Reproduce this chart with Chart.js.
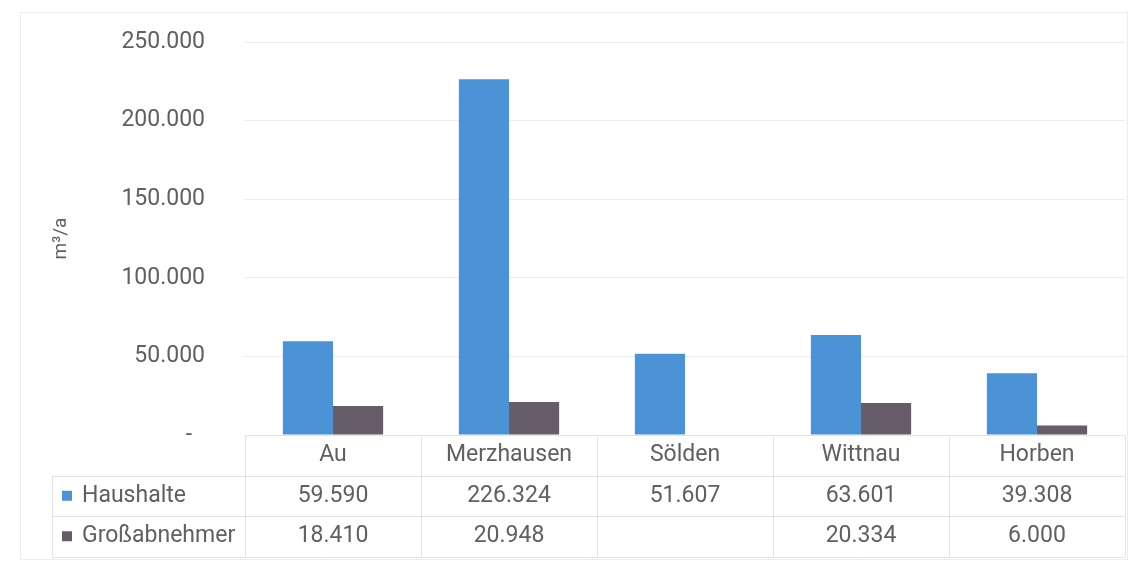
<!DOCTYPE html>
<html>
<head>
<meta charset="utf-8">
<script src="https://cdn.jsdelivr.net/npm/chart.js@4/dist/chart.umd.min.js"></script>
<style>
  html, body { margin: 0; padding: 0; background: #ffffff; }
  #wrap { position: relative; width: 1140px; height: 563px; }
  #frame { position: absolute; left: 20px; top: 12px; width: 1108px; height: 548px; border: 1px solid #ececec; box-sizing: border-box; pointer-events: none; }
  canvas { position: absolute; left: 0; top: 0; }
</style>
</head>
<body>
<div id="wrap">
  <canvas id="c" width="1140" height="563"></canvas>
  <div id="frame"></div>
</div>
<script>
const categories = ['Au', 'Merzhausen', 'Sölden', 'Wittnau', 'Horben'];
const haushalte = [59590, 226324, 51607, 63601, 39308];
const grossabnehmer = [18410, 20948, null, 20334, 6000];
const seriesNames = ['Haushalte', 'Großabnehmer'];
const yTicks = [0, 50000, 100000, 150000, 200000, 250000];
const yTitle = 'm³/a';

const FONT = 'Roboto, "Liberation Sans", sans-serif';
const FS = 23;
const TEXT = '#606060';
const LINE = '#dde4ec';
const colors = ['#4b93d6', '#675d68'];

function fmt(v) {
  if (v === null || v === undefined) return '';
  if (v === 0) return '-\u2007';
  return v.toLocaleString('de-DE');
}

const tablePlugin = {
  id: 'dataTable',
  afterDraw(chart) {
    const ctx = chart.ctx;
    const x = chart.scales.x;
    const area = chart.chartArea;
    const n = categories.length;
    const colW = (area.right - area.left) / n;
    const top = area.bottom;
    const rowH = 40.5;
    const leftEdge = 52;
    const rows = [haushalte, grossabnehmer];
    ctx.save();
    ctx.strokeStyle = LINE;
    ctx.lineWidth = 1;
    ctx.beginPath();
    ctx.moveTo(area.left, top + 0.5); ctx.lineTo(area.right, top + 0.5);
    for (let r = 1; r <= 3; r++) {
      const y = Math.round(top + r * rowH) + 0.5;
      ctx.moveTo(leftEdge, y); ctx.lineTo(area.right, y);
    }
    for (let c = 0; c <= n; c++) {
      const xx = Math.round(area.left + c * colW) + 0.5;
      ctx.moveTo(xx, top); ctx.lineTo(xx, top + 3 * rowH);
    }
    ctx.moveTo(leftEdge + 0.5, top + rowH); ctx.lineTo(leftEdge + 0.5, top + 3 * rowH);
    ctx.stroke();

    ctx.font = FS + 'px ' + FONT;
    ctx.textBaseline = 'middle';
    rows.forEach((vals, r) => {
      const cy = top + (r + 1.5) * rowH;
      ctx.fillStyle = colors[r];
      ctx.fillRect(62, cy - 5, 10, 10);
      ctx.fillStyle = TEXT;
      ctx.textAlign = 'left';
      ctx.fillText(seriesNames[r], 82, cy);
      ctx.textAlign = 'center';
      vals.forEach((v, i) => {
        ctx.fillText(fmt(v), x.getPixelForValue(i), cy);
      });
    });
    ctx.restore();
  }
};

new Chart(document.getElementById('c'), {
  type: 'bar',
  data: {
    labels: categories,
    datasets: [
      { label: seriesNames[0], data: haushalte, backgroundColor: colors[0] },
      { label: seriesNames[1], data: grossabnehmer, backgroundColor: colors[1] }
    ]
  },
  options: {
    responsive: false,
    animation: false,
    devicePixelRatio: 1,
    layout: { padding: { top: 42, right: 15, bottom: 0, left: 0 } },
    datasets: { bar: { categoryPercentage: 0.57, barPercentage: 1.0 } },
    plugins: { legend: { display: false }, tooltip: { enabled: false } },
    scales: {
      x: {
        grid: { display: false, drawTicks: false },
        border: { display: false },
        ticks: { color: TEXT, font: { family: FONT, size: FS }, padding: 6 },
        afterFit(scale) { scale.height = 128; }
      },
      y: {
        min: 0, max: 250000,
        afterBuildTicks(scale) { scale.ticks = yTicks.map(v => ({ value: v })); },
        grid: {
          color: (c) => c.tick && c.tick.value === 0 ? 'rgba(0,0,0,0)' : '#ebebeb',
          drawTicks: true, tickLength: 40, tickColor: 'rgba(0,0,0,0)'
        },
        border: { display: false },
        ticks: { color: TEXT, font: { family: FONT, size: FS }, padding: 0, callback: (v) => fmt(v) },
        title: { display: true, text: yTitle, color: TEXT, font: { family: FONT, size: 19 }, padding: { top: 50, bottom: 0 } },
        afterFit(scale) { scale.width = 245; }
      }
    }
  },
  plugins: [tablePlugin]
});
</script>
</body>
</html>
